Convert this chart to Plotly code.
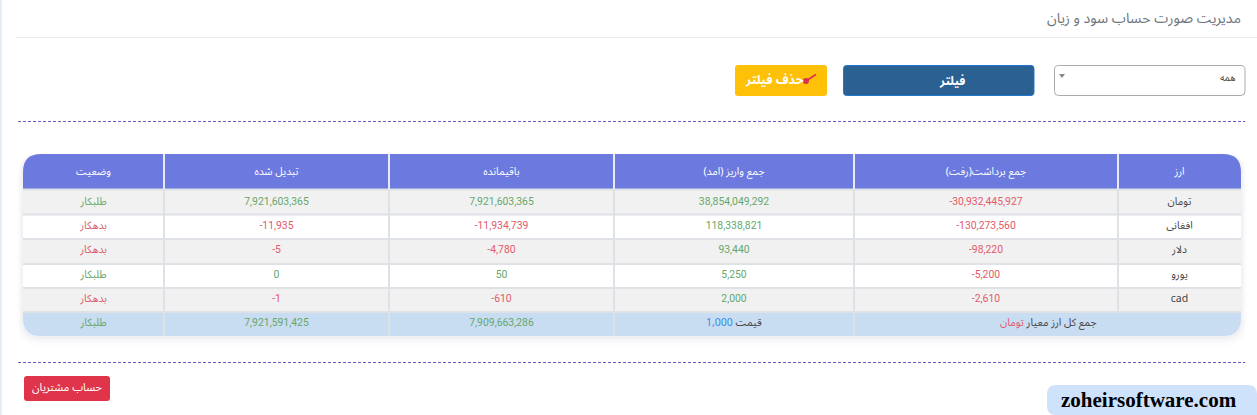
import plotly.graph_objects as go

W, H = 1257, 415
FA = "'Noto Sans Arabic','Vazirmatn','DejaVu Sans',sans-serif"
NUM = "Roboto, sans-serif"

# ---- data ----
headers = ["وضعیت", "تبدیل شده", "باقیمانده", "جمع واریز (امد)", "جمع برداشت(رفت)\u200f", "ارز"]
status = ["طلبکار", "بدهکار", "بدهکار", "طلبکار", "بدهکار", "طلبکار"]
converted = ["7,921,603,365", "-11,935", "-5", "0", "-1", "7,921,591,425"]
balance = ["7,921,603,365", "-11,934,739", "-4,780", "50", "-610", "7,909,663,286"]
deposits = ["38,854,049,292", "118,338,821", "93,440", "5,250", "2,000"]
withdrawals = ["-30,932,445,927", "-130,273,560", "-98,220", "-5,200", "-2,610"]
currencies = ["تومان", "افغانی", "دلار", "یورو", "cad"]
price_label = "قیمت"
price_value = "1,000"
total_label = "جمع کل ارز معیار"
total_currency = "تومان"
col_edges = [23, 164, 389, 614, 854, 1118, 1241]
row_edges = [154, 189.5, 214.5, 239, 264, 288, 312, 336]

GREEN, RED = "#66a76c", "#e25a6c"
def tone(v):
    return RED if v.startswith("-") or v == "بدهکار" else GREEN

X = lambda v: v / W
Y = lambda v: 1 - v / H

def rrect(x0, y0, x1, y1, tl=0, tr=0, br=0, bl=0):
    c = lambda x, y: f"{X(x):.6f},{Y(y):.6f}"
    return ("M" + c(x0 + tl, y0) + " L" + c(x1 - tr, y0) + " Q" + c(x1, y0) + " " + c(x1, y0 + tr)
            + " L" + c(x1, y1 - br) + " Q" + c(x1, y1) + " " + c(x1 - br, y1)
            + " L" + c(x0 + bl, y1) + " Q" + c(x0, y1) + " " + c(x0, y1 - bl)
            + " L" + c(x0, y0 + tl) + " Q" + c(x0, y0) + " " + c(x0 + tl, y0) + " Z")

shapes = []
def box(x0, y0, x1, y1, fill, line=None, lw=0, r=(0, 0, 0, 0), op=1):
    shapes.append(dict(type="path", path=rrect(x0, y0, x1, y1, *r), xref="paper", yref="paper",
                       fillcolor=fill, opacity=op, layer="below",
                       line=dict(color=line or fill, width=lw)))
def seg(x0, y0, x1, y1, color, w=1, dash="solid"):
    shapes.append(dict(type="line", x0=X(x0), x1=X(x1), y0=Y(y0), y1=Y(y1), xref="paper", yref="paper",
                       layer="below", line=dict(color=color, width=w, dash=dash)))

# page furniture
box(0, 0, 2, H, "#e6edf5")
seg(16, 37.5, W, 37.5, "#e9ecef", 1)
seg(18, 121.5, 1245, 121.5, "#6a58c4", 1, "3px,2px")
seg(18, 362.5, 1245, 362.5, "#6a58c4", 1, "3px,2px")

# filter controls
box(1054.5, 65.5, 1245, 95.5, "#ffffff", "#aaaaaa", 1, (4, 4, 4, 4))
shapes.append(dict(type="path", xref="paper", yref="paper", layer="below", fillcolor="#888888",
                   line=dict(width=0),
                   path=f"M{X(1059)},{Y(74)} L{X(1065)},{Y(74)} L{X(1062)},{Y(78)} Z"))
box(843.5, 65.5, 1034, 95.5, "#2a6092", "#1f77d0", 1, (3, 3, 3, 3))
box(735, 65, 827, 96, "#ffc107", r=(3, 3, 3, 3))
# broom icon on the clear-filter button
seg(806, 81, 816, 74.5, "#d9304f", 1.5)
box(803, 78, 809, 84, "#d9304f", r=(3, 3, 3, 3))
# red button and watermark
box(24, 376, 110, 401, "#e0344b", r=(3, 3, 3, 3))
box(1047, 385, W, 415, "#cfe2fb", r=(9, 9, 0, 9))

# table shadow
for g, o in ((9, .02), (6, .03), (3, .04)):
    box(23 - g * .6, 154, 1241 + g * .6, 336 + g, "#5a6a80", r=(20, 20, 20, 20), op=o)

# table body backgrounds
R = 18
rows = ["#f1f1f1", "#ffffff", "#f1f1f1", "#ffffff", "#f1f1f1"]
box(col_edges[0], row_edges[0], col_edges[-1], row_edges[1], "#6c7ae0", r=(R, R, 0, 0))
for i, f in enumerate(rows):
    box(col_edges[0], row_edges[i + 1], col_edges[-1], row_edges[i + 2], f)
box(col_edges[0], row_edges[-2], col_edges[-1], row_edges[-1], "#c8dcf2", r=(0, 0, R, R))
# grid
for y in row_edges[1:-1]:
    seg(col_edges[0], y, col_edges[-1], y, "#dee2e6", 2)
for i, x in enumerate(col_edges[1:-1]):
    seg(x, row_edges[0], x, row_edges[1], "#e8ebf7", 2)
    seg(x, row_edges[1], x, row_edges[-2] if i == 4 else row_edges[-1], "#dee2e6", 2)

widths = [col_edges[i + 1] - col_edges[i] for i in range(6)]
clear = dict(color="rgba(0,0,0,0)")

# header row, offset down a few px so the labels sit mid-band
header_table = go.Table(
    domain=dict(x=[X(col_edges[0]), X(col_edges[-1])], y=[Y(190), Y(159)]),
    columnwidth=widths,
    header=dict(values=headers, height=30, align="center", fill=clear, line=dict(width=0),
                font=dict(family=FA, size=10.5, color="#ffffff")),
    cells=dict(values=[[] for _ in widths], height=1, fill=clear, line=dict(width=0)),
)
body_table = go.Table(
    domain=dict(x=[X(col_edges[0]), X(col_edges[-1])], y=[Y(337), Y(row_edges[0] - 0.6)]),
    columnwidth=widths,
    header=dict(values=[""] * 6, height=row_edges[1] - row_edges[0], fill=clear, line=dict(width=0)),
    cells=dict(values=[status, converted, balance, deposits + [""], withdrawals + [""], currencies + [""]],
               height=24.3, align="center", fill=clear, line=dict(width=0),
               font=dict(family=[FA, NUM, NUM, NUM, NUM, FA], size=[10.5, 10.4, 10.4, 10.4, 10.4, 10.5],
                         color=[[tone(v) for v in status], [tone(v) for v in converted],
                                [tone(v) for v in balance], [GREEN] * 6,
                                [tone(v) for v in withdrawals] + ["#555"], ["#444444"] * 6])),
)

fig = go.Figure([header_table, body_table])
def note(x, y, text, size, color, family=FA, anchor="center", weight=None):
    fig.add_annotation(xref="paper", yref="paper", x=X(x), y=Y(y), text=text, showarrow=False,
                       xanchor=anchor, yanchor="middle",
                       font=dict(size=size, color=color, family=family, weight=weight))

note(1243, 18, "مدیریت صورت حساب سود و زیان", 14.2, "#6c757d", anchor="right")
note(1238, 78, "همه", 9.5, "#444444", anchor="right")
note(952, 81, "فیلتر", 12, "#ffffff", weight="bold")
note(774, 80, "حذف فیلتر", 12.5, "#ffffff", weight="bold")
note(67, 387.5, "حساب مشتریان", 11, "#ffffff")
note(1048, 322.5, f'{total_label} <span style="color:#e2566c">{total_currency}</span>', 10.5, "#444444")
note(734, 322.5, f'<span style="color:#2f8fe8">{price_value}</span> {price_label}', 10.5, "#444444")
note(1149, 399.5, "zoheirsoftware.com", 21, "#000000", family="'Liberation Serif',serif", weight="bold")

fig.update_layout(width=W, height=H, margin=dict(l=0, r=0, t=0, b=0), paper_bgcolor="#ffffff",
                  shapes=shapes, showlegend=False)
fig.write_html("out.html", config=dict(displayModeBar=False),
               post_script="document.body.style.margin='0';")
